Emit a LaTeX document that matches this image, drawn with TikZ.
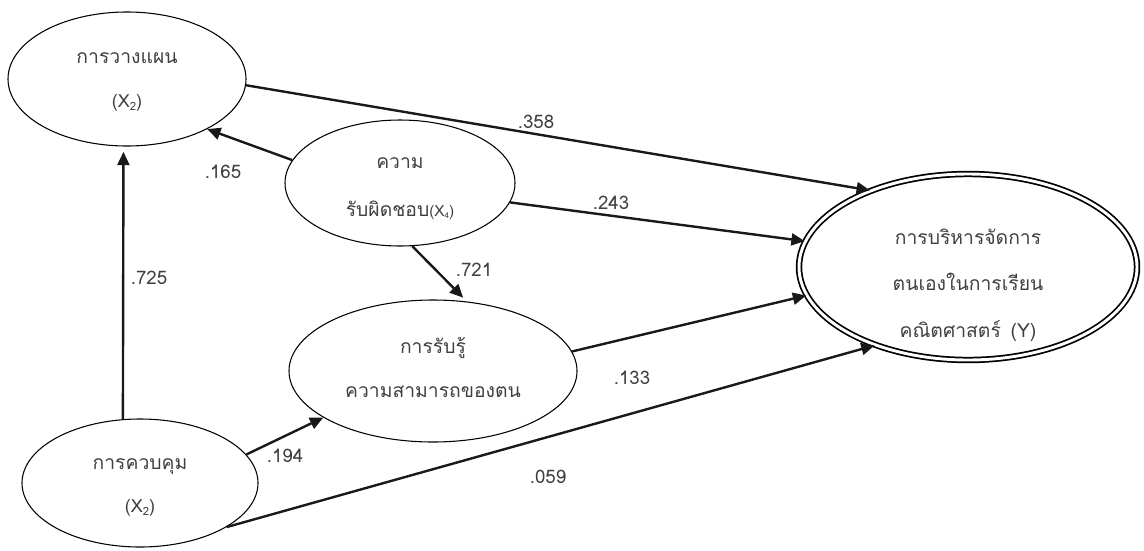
\documentclass[tikz,border=0pt]{standalone}
\usepackage{fontspec}
\newfontfamily\thaifont[Script=Thai]{Loma}
\usetikzlibrary{shapes.geometric,arrows.meta}
\definecolor{txt}{HTML}{404040}
\newcommand{\sbs}[1]{\raisebox{-0.35ex}{\fontsize{8.5}{9}\selectfont #1}}
\tikzset{
  ell/.style={draw=black, line width=0.8pt, ellipse, inner sep=0pt},
  yell/.style={draw=black, line width=1.3pt, double=white, double distance=2.2pt, ellipse, inner sep=0pt},
  th/.style={text=txt, font=\thaifont\fontsize{14.5}{16}\selectfont, inner sep=0pt, anchor=center},
  xl/.style={text=txt, font=\thaifont\fontsize{13.5}{15}\selectfont, inner sep=0pt, anchor=center},
  coef/.style={text=txt, font=\thaifont\fontsize{14}{16}\selectfont, inner sep=0pt, anchor=center},
  arr/.style={-{Triangle[length=10pt,width=9pt]}, line width=1.8pt, draw=black!90}
}
\begin{document}
\begin{tikzpicture}[x=0.75pt,y=-0.75pt]
\useasboundingbox (0,0) rectangle (1144,550);
% ellipses
\node[ell, minimum width=238*0.75pt, minimum height=134*0.75pt] (e1) at (127,79) {};
\node[ell, minimum width=230*0.75pt, minimum height=126*0.75pt] (e2) at (400,183) {};
\node[ell, minimum width=288*0.75pt, minimum height=142*0.75pt] (e3) at (433,371) {};
\node[ell, minimum width=236*0.75pt, minimum height=128*0.75pt] (e4) at (140,483) {};
\node[yell, minimum width=338*0.75pt, minimum height=186*0.75pt] (e5) at (968,267) {};
% texts
\node[th] (t1a) at (127,58) {การวางแผน};
\node[xl] (t1b) at (127,103) {(X\sbs{2})};
\node[th] (t2a) at (400,163) {ความ};
\node[th] (t2b) at (400,210) {รับผิดชอบ{\fontsize{11.5}{12}\selectfont(X\raisebox{-0.35ex}{\fontsize{6}{7}\selectfont 4})}};
\node[th] (t3a) at (433,348) {การรับรู้};
\node[th] (t3b) at (433,392) {ความสามารถของตน};
\node[th] (t4a) at (140,467) {การควบคุม};
\node[xl] (t4b) at (140,508) {(X\sbs{2})};
\node[th] (t5a) at (968,237) {การบริหารจัดการ};
\node[th] (t5b) at (968,282) {ตนเองในการเรียน};
\node[th] (t5c) at (968,331) {คณิตศาสตร์ \,(Y)};
% arrows
\draw[arr] (e1.-3.8) -- (e5.142.4);
\draw[arr] (e2.168.4) -- (e1.-32.1);
\draw[arr] (e2.-10.8) -- (e5.171.5);
\draw[arr, shorten >=4pt] (e2.-79.4) -- (e3.64.4);
\draw[arr, shorten >=4pt] (e4.105) -- (e1.-93.4);
\draw[arr] (e4.15.2) -- (e3.203.5);
\draw[arr] (e3.8.5) -- (e5.190.3);
\draw[arr] (e4.-27) -- (e5.220.4);
% coefficients
\node[coef] (c1) at (536,122) {.358};
\node[coef] (c2) at (223,172) {.165};
\node[coef] (c3) at (611,203) {.243};
\node[coef] (c4) at (474,270) {.721};
\node[coef] (c5) at (149,278) {.725};
\node[coef] (c6) at (632,378) {.133};
\node[coef] (c7) at (285,456) {.194};
\node[coef] (c8) at (548,477) {.059};
\end{tikzpicture}
\end{document}
